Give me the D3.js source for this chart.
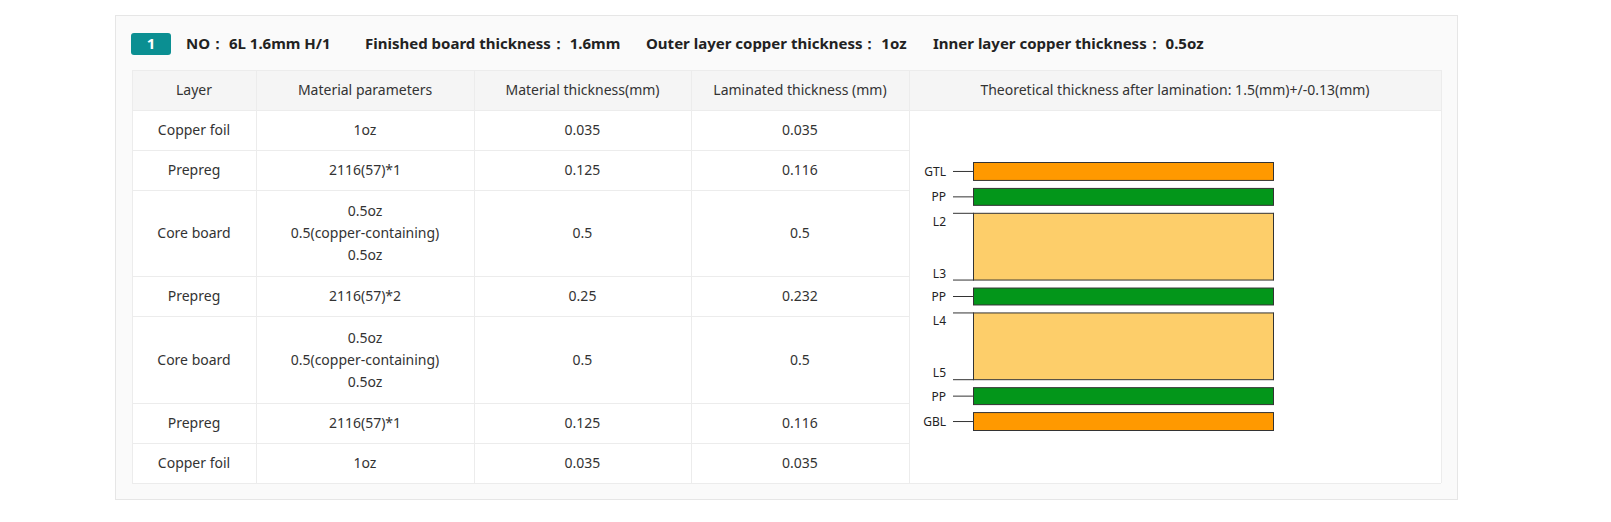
<!DOCTYPE html>
<html><head><meta charset="utf-8">
<script src="https://cdn.jsdelivr.net/npm/d3@7"></script>
<style>body{margin:0;background:#fff;font-family:"Noto Sans",sans-serif;overflow:hidden}svg{display:block}</style>
</head><body><svg id="chart"></svg>
<script>
const headerItems = [["NO：", "6L 1.6mm H/1"], ["Finished board thickness：", "1.6mm"], ["Outer layer copper thickness：", "1oz"], ["Inner layer copper thickness：", "0.5oz"]];
const columns = ["Layer", "Material parameters", "Material thickness(mm)", "Laminated thickness (mm)", "Theoretical thickness after lamination: 1.5(mm)+/-0.13(mm)"];
const layerNames = ["Copper foil", "Prepreg", "Core board", "Prepreg", "Core board", "Prepreg", "Copper foil"];
const materialParams = [["1oz"], ["2116(57)*1"], ["0.5oz", "0.5(copper-containing)", "0.5oz"], ["2116(57)*2"], ["0.5oz", "0.5(copper-containing)", "0.5oz"], ["2116(57)*1"], ["1oz"]];
const materialThickness = ["0.035", "0.125", "0.5", "0.25", "0.5", "0.125", "0.035"];
const laminatedThickness = ["0.035", "0.116", "0.5", "0.232", "0.5", "0.116", "0.035"];
const stackKinds = ["copper", "pp", "core", "pp", "core", "pp", "copper"];
const stackLabels = [["GTL"], ["PP"], ["L2", "L3"], ["PP"], ["L4", "L5"], ["PP"], ["GBL"]];

const W = 1611, H = 522;
const svg = d3.select("#chart").attr("width", W).attr("height", H);
const colX = [132, 256, 474, 691, 909, 1441];
const rowH = [40, 40, 86, 40, 87, 40, 40];
const headTop = 70, headH = 40;
const line = "#ececec";

svg.append("rect").attr("x", 115.5).attr("y", 15.5).attr("width", 1342).attr("height", 484)
  .attr("fill", "#fafafa").attr("stroke", "#e6e6e6");

// title line
svg.append("rect").attr("x", 131).attr("y", 33).attr("width", 40).attr("height", 22).attr("rx", 3).attr("fill", "#0b8f92");
svg.append("text").attr("x", 151).attr("y", 49).attr("text-anchor", "middle").attr("fill", "#fff")
  .attr("font-size", 15).attr("font-weight", 700).text("1");
const hx = [186, 365, 646, 933];
const ht = svg.append("g").attr("font-size", 15).attr("font-weight", 700).attr("fill", "#222");
headerItems.forEach((d, i) => ht.append("text").attr("x", hx[i]).attr("y", 49).text(d[0] + " " + d[1]).attr("xml:space", "preserve"));

// table
const tw = colX[5] - colX[0];
const totalH = headH + d3.sum(rowH);
svg.append("rect").attr("x", colX[0]).attr("y", headTop).attr("width", tw).attr("height", totalH).attr("fill", "#fff");
svg.append("rect").attr("x", colX[0]).attr("y", headTop).attr("width", tw).attr("height", headH).attr("fill", "#f5f5f5");
const rowY = [headTop + headH];
rowH.forEach(h => rowY.push(rowY[rowY.length - 1] + h));
const g = svg.append("g").attr("stroke", line).attr("shape-rendering", "crispEdges");
[headTop, ...rowY].forEach((y, i) => {
  const x2 = (i === 0 || i === 1 || i === rowY.length) ? colX[5] : colX[4];
  g.append("line").attr("x1", colX[0]).attr("x2", x2).attr("y1", y + 0.5).attr("y2", y + 0.5);
});
colX.forEach(x => g.append("line").attr("x1", x + 0.5).attr("x2", x + 0.5).attr("y1", headTop).attr("y2", headTop + totalH));

const tt = svg.append("g").attr("font-size", 14).attr("fill", "#333").attr("text-anchor", "middle");
columns.forEach((c, i) => tt.append("text").attr("x", (colX[i] + colX[i + 1]) / 2).attr("y", headTop + headH / 2 + 5).text(c));
layerNames.forEach((n, r) => {
  const cy = (rowY[r] + rowY[r + 1]) / 2;
  const cells = [[n], materialParams[r], [materialThickness[r]], [laminatedThickness[r]]];
  cells.forEach((lines, c) => {
    lines.forEach((t, k) => tt.append("text").attr("x", (colX[c] + colX[c + 1]) / 2)
      .attr("y", cy + 5 + (k - (lines.length - 1) / 2) * 22).text(t));
  });
});

// stackup diagram
const unit = {copper: 19, pp: 18, core: 68};
const gap = 7;
const starts = [];
let acc = 0;
stackKinds.forEach(k => { starts.push(acc); acc += unit[k] + gap; });
const y = d3.scaleLinear().domain([0, acc - gap]).range([162, 431]);
const fill = {copper: "#ff9900", pp: "#03961a", core: "#fdce6a"};
const x0 = 973, x1 = 1273, lx = 953;
const dg = svg.append("g");
stackKinds.forEach((k, i) => {
  const top = y(starts[i]), bot = y(starts[i] + unit[k]);
  dg.append("rect").attr("x", x0 + 0.5).attr("y", top + 0.5).attr("width", x1 - x0).attr("height", bot - top - 1)
    .attr("fill", fill[k]).attr("stroke", k === "core" ? "none" : "#333");
  if (k === "core") {
    dg.append("line").attr("x1", lx).attr("x2", x1 + 0.5).attr("y1", top + 0.5).attr("y2", top + 0.5).attr("stroke", "#333");
    dg.append("line").attr("x1", lx).attr("x2", x1 + 0.5).attr("y1", bot - 0.5).attr("y2", bot - 0.5).attr("stroke", "#333");
    [x0 + 0.5, x1 + 0.5].forEach(xx => dg.append("line").attr("x1", xx).attr("x2", xx).attr("y1", top).attr("y2", bot).attr("stroke", "#333"));
    dg.append("text").attr("x", 946).attr("y", top + 13).attr("text-anchor", "end").attr("font-size", 12).attr("fill", "#222").text(stackLabels[i][0]);
    dg.append("text").attr("x", 946).attr("y", bot - 3).attr("text-anchor", "end").attr("font-size", 12).attr("fill", "#222").text(stackLabels[i][1]);
  } else {
    const cy = (top + bot) / 2;
    dg.append("line").attr("x1", lx).attr("x2", x0).attr("y1", cy).attr("y2", cy).attr("stroke", "#333");
    dg.append("text").attr("x", 946).attr("y", cy + 4.5).attr("text-anchor", "end").attr("font-size", 12).attr("fill", "#222").text(stackLabels[i][0]);
  }
});
</script></body></html>
